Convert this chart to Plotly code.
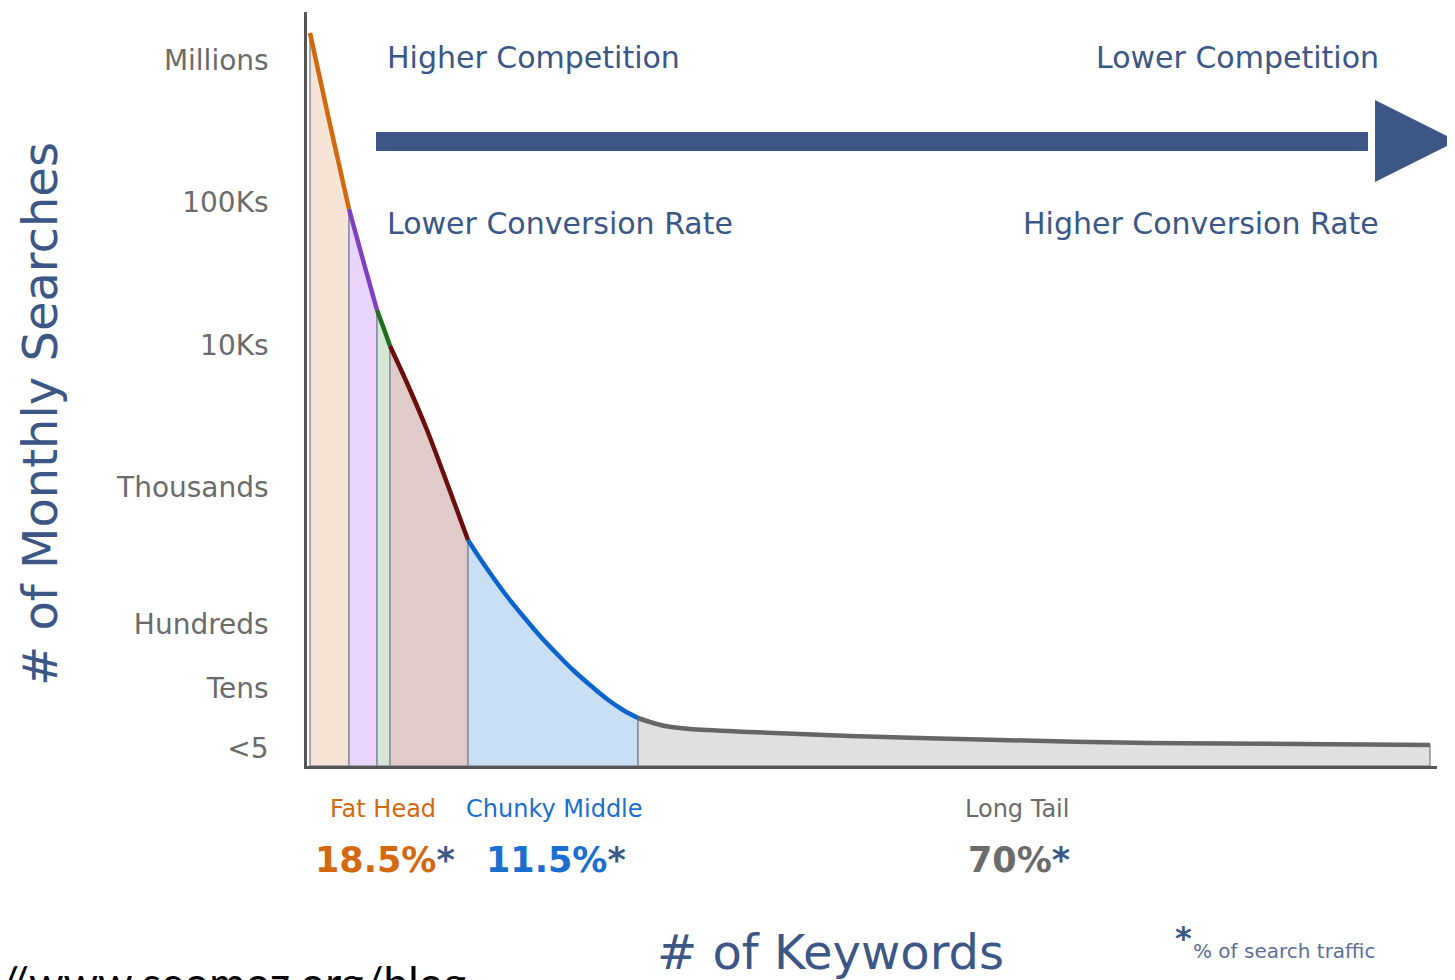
import plotly.graph_objects as go

# ---------------- data (chart units: x = keyword position, y = search-volume level) ----------------
orange_x = [3, 22, 42]
orange_y = [733, 646, 557]
purple_x = [42, 56, 70]
purple_y = [557, 506, 456]
green_x = [70, 77, 83]
green_y = [456, 437, 420]
maroon_x = [83, 100, 120, 140, 161]
maroon_y = [420, 383, 336, 283, 226]
blue_x = [161, 172, 183, 199, 216, 233, 250, 266, 283, 300, 316, 331]
blue_y = [226, 209, 193, 171, 150, 130, 112, 96, 81, 67, 56, 48]
tail_x = [331, 343, 358, 383, 443, 543, 693, 843, 993, 1123]
tail_y = [48, 44, 40, 37, 34, 30, 26, 23, 22, 21]

tick_vals = [706, 564, 421, 279, 142, 78, 18]
tick_text = ["Millions", "100Ks", "10Ks", "Thousands", "Hundreds", "Tens", "<5"]

segment_names = ["Fat Head 1", "Fat Head 2", "Fat Head 3", "Fat Head 4", "Chunky Middle", "Long Tail"]
line_colors = ["#D2690F", "#7E3FC1", "#1F6E1F", "#6B0D0D", "#0B63CE", "#666666"]
fill_colors = ["#F6E5D6", "#E9D5FC", "#D3E7D3", "#E0CACA", "#C9DFF4", "#E0E0E0"]

group_labels = ["Fat Head", "Chunky Middle", "Long Tail"]
group_shares = ["18.5%", "11.5%", "70%"]
group_colors = ["#D2690F", "#1A6ED0", "#6b6b6b"]

# ---------------- figure ----------------
OX, OY = 8, 8          # page body margin offset
SW, SH = 1455, 980     # screen size
W, H = SW - OX, SH - OY
L, R, T, B = 307 - OX, 18, 12 - OY, SH - 766
XR, YR = 1130, 754

def px(x):
    return (x - OX - L) / (W - L - R)

def py(y):
    return (H - B - (y - OY)) / (H - T - B)

xs_all = [orange_x, purple_x, green_x, maroon_x, blue_x, tail_x]
ys_all = [orange_y, purple_y, green_y, maroon_y, blue_y, tail_y]

fig = go.Figure()
for xs, ys, name, fc in zip(xs_all, ys_all, segment_names, fill_colors):
    fig.add_trace(go.Scatter(
        x=[xs[0]] + xs + [xs[-1], xs[0]],
        y=[0] + ys + [0, 0],
        fill="toself", fillcolor=fc, mode="lines",
        line=dict(color="#8C8C9C", width=1.5),
        hoverinfo="skip", showlegend=False, name=name))
for xs, ys, name, lc in zip(xs_all, ys_all, segment_names, line_colors):
    fig.add_trace(go.Scatter(
        x=xs, y=ys, mode="lines", line=dict(color=lc, width=4.5, shape="spline", smoothing=0.8),
        showlegend=False, name=name))

fig.update_xaxes(range=[0, XR], showline=True, linecolor="#555555", linewidth=2.5,
                 showgrid=False, zeroline=False, showticklabels=False, ticks="")
fig.update_yaxes(range=[0, YR], showline=True, linecolor="#555555", linewidth=2.5,
                 showgrid=False, zeroline=False, tickvals=tick_vals, ticktext=tick_text,
                 ticks="", ticklabelstandoff=30,
                 tickfont=dict(family="DejaVu Sans", size=28, color="#6b6b6b"))

navy = "#3C5785"
ann = []
def A(text, x, y, size, color, xanchor="left", yanchor="middle", family="DejaVu Sans", angle=0):
    ann.append(dict(text=text, x=px(x), y=py(y), xref="paper", yref="paper", showarrow=False,
                    xanchor=xanchor, yanchor=yanchor, textangle=angle,
                    font=dict(family=family, size=size, color=color)))

A("Higher Competition", 385, 57, 30, navy)
A("Lower Competition", 1381, 57, 30, navy, xanchor="right")
A("Lower Conversion Rate", 385, 223, 30, navy)
A("Higher Conversion Rate", 1381, 223, 30, navy, xanchor="right")

A("# of Monthly Searches", 40, 414, 48, navy, xanchor="center", angle=-90)
A("# of Keywords", 830, 952, 48, navy, xanchor="center")

label_cx = [383, 554, 1017]
for lab, share, col, cx in zip(group_labels, group_shares, group_colors, label_cx):
    A(lab, cx, 809, 24, col, xanchor="center")
    A("<b>" + share + "<span style='color:%s'>*</span></b>" % navy, cx + 2, 860, 35, col, xanchor="center")

A("<b>*</b>", 1183, 938, 32, navy, xanchor="center")
A("% of search traffic", 1191, 951, 20, "#5B7099")

A("//www.seomoz.org/blog", -3, 954, 44, "#000000", yanchor="top", family="Lato")

fig.update_layout(
    width=W, height=H, margin=dict(l=L, r=R, t=T, b=B),
    paper_bgcolor="white", plot_bgcolor="white", annotations=ann,
    shapes=[
        dict(type="rect", xref="paper", yref="paper", x0=px(376), x1=px(1368), y0=py(151), y1=py(132),
             fillcolor=navy, line=dict(width=0), layer="above"),
        dict(type="path", xref="paper", yref="paper",
             path="M %f %f L %f %f L %f %f Z" % (px(1375), py(100), px(1457), py(141), px(1375), py(182)),
             fillcolor=navy, line=dict(width=0), layer="above"),
    ],
)

fig.write_html("out.html")
